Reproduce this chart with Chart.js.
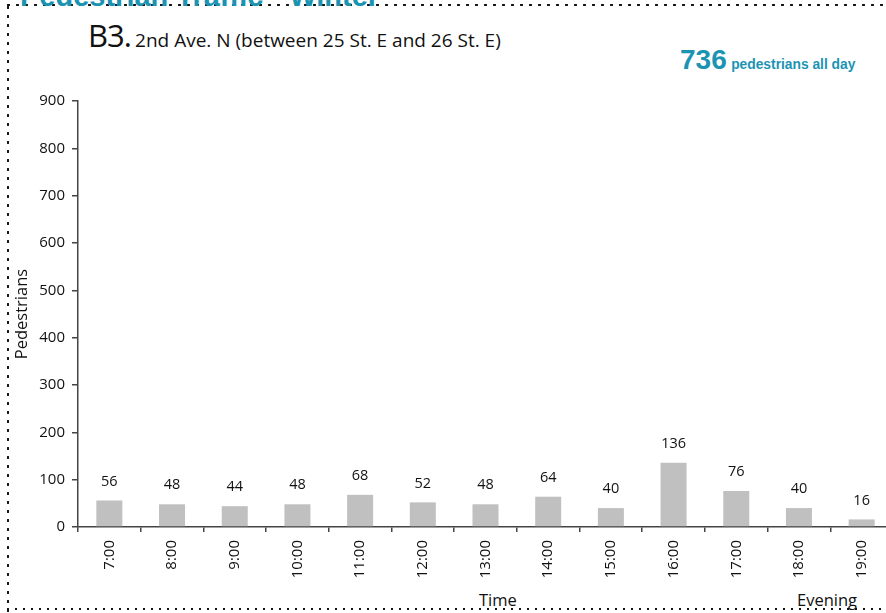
<!DOCTYPE html>
<html>
<head>
<meta charset="utf-8">
<script src="https://cdn.jsdelivr.net/npm/chart.js@4"></script>
<style>
  html, body { margin: 0; padding: 0; background: #fff; overflow: hidden; }
  body { width: 886px; height: 613px; position: relative; font-family: "Open Sans", sans-serif; }
  #wrap { position: absolute; left: 0; top: 0; width: 900px; height: 613px; }
  .dots-h { position: absolute; height: 4px; background-image: radial-gradient(circle, #111 1.1px, transparent 1.4px); background-size: 9px 4px; }
  .dots-v { position: absolute; width: 4px; background-image: radial-gradient(circle, #111 1.1px, transparent 1.4px); background-size: 4px 9px; }
  .txt { position: absolute; white-space: nowrap; }
  .teal { color: #1b93b3; font-family: Arial, "Liberation Sans", sans-serif; font-weight: bold; }
</style>
</head>
<body>
<div class="dots-h" style="left:4px; top:3px; width:886px;"></div>
<div class="dots-v" style="left:6px; top:3px; height:610px;"></div>
<div class="dots-h" style="left:4px; top:607px; width:886px; background-size:8px 4px;"></div>
<div class="txt teal" style="left:20px; top:-20px; font-size:29px;">Pedestrian Traffic - Winter</div>
<div class="txt" style="left:88px; top:14px; color:#111;"><span style="font-size:31px; letter-spacing:-1px;">B3.</span> <span style="font-size:19px;">2nd Ave. N (between 25 St. E and 26 St. E)</span></div>
<div class="txt teal" style="left:680px; top:44px;"><span style="font-size:28px;">736</span> <span style="font-size:13.8px;">pedestrians all day</span></div>
<div class="txt" style="left:479px; top:588px; font-size:16.5px; color:#111;">Time</div>
<div class="txt" style="left:797px; top:588px; font-size:16.5px; color:#111;">Evening</div>
<div id="wrap"><canvas id="chart"></canvas></div>
<script>
const hours = ['7:00', '8:00', '9:00', '10:00', '11:00', '12:00', '13:00', '14:00', '15:00', '16:00', '17:00', '18:00', '19:00'];
const pedestrians = [56, 48, 44, 48, 68, 52, 48, 64, 40, 136, 76, 40, 16];
const yMax = 900;
const yStep = 100;

const axisColor = '#444';
const textColor = '#111';

// labels above each bar
const valueLabels = {
  id: 'valueLabels',
  afterDatasetsDraw(chart) {
    const ctx = chart.ctx;
    const meta = chart.getDatasetMeta(0);
    ctx.save();
    ctx.font = '14.5px "Open Sans", sans-serif';
    ctx.fillStyle = textColor;
    ctx.textAlign = 'center';
    ctx.textBaseline = 'middle';
    meta.data.forEach((bar, i) => {
      ctx.fillText(String(pedestrians[i]), bar.x, bar.y - 19);
    });
    ctx.restore();
  }
};

new Chart(document.getElementById('chart'), {
  type: 'bar',
  data: {
    labels: hours,
    datasets: [{
      data: pedestrians,
      backgroundColor: '#c0c0c0',
      borderWidth: 0,
      categoryPercentage: 1,
      barPercentage: 0.415
    }]
  },
  options: {
    responsive: true,
    maintainAspectRatio: false,
    animation: false,
    layout: { padding: { top: 101, right: 7, bottom: 0, left: 0 } },
    plugins: {
      legend: { display: false },
      tooltip: { enabled: false }
    },
    scales: {
      x: {
        offset: true,
        afterFit(scale) { scale.height = 86; },
        grid: {
          display: true,
          offset: true,
          drawOnChartArea: false,
          drawTicks: true,
          tickLength: 5,
          color: axisColor,
          lineWidth: 1.5
        },
        border: { display: true, color: axisColor, width: 1.5 },
        ticks: {
          minRotation: 90,
          maxRotation: 90,
          autoSkip: false,
          padding: 8,
          color: textColor,
          font: { family: '"Open Sans", sans-serif', size: 15 }
        }
      },
      y: {
        min: 0,
        max: yMax,
        afterFit(scale) { scale.width = 78; },
        grid: {
          display: true,
          drawOnChartArea: false,
          drawTicks: true,
          tickLength: 6,
          color: axisColor,
          lineWidth: 1.5
        },
        border: { display: true, color: axisColor, width: 1.5 },
        ticks: {
          stepSize: yStep,
          padding: 7,
          color: textColor,
          font: { family: '"Open Sans", sans-serif', size: 15 }
        },
        title: {
          display: true,
          text: 'Pedestrians',
          color: textColor,
          padding: { top: 12, bottom: 0 },
          font: { family: '"Open Sans", sans-serif', size: 16.5 }
        }
      }
    }
  },
  plugins: [valueLabels]
});
</script>
</body>
</html>
